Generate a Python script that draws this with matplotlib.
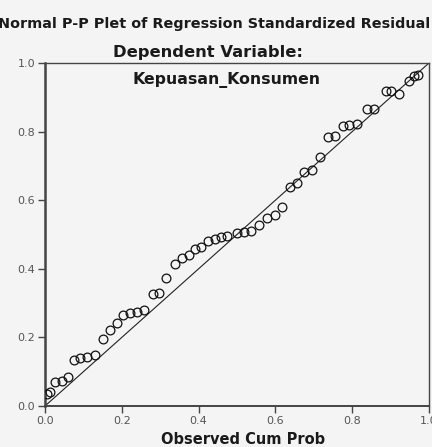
import matplotlib
matplotlib.use("Agg")
import matplotlib.pyplot as plt
import numpy as np

# observed / expected cumulative probabilities
observed = [0.004, 0.013, 0.026, 0.043, 0.061, 0.076, 0.091, 0.110, 0.130, 0.151,
            0.169, 0.187, 0.204, 0.221, 0.240, 0.258, 0.281, 0.298, 0.316, 0.339,
            0.358, 0.375, 0.391, 0.406, 0.425, 0.443, 0.458, 0.474, 0.499, 0.518,
            0.536, 0.557, 0.579, 0.599, 0.618, 0.639, 0.656, 0.675, 0.695, 0.717,
            0.738, 0.755, 0.775, 0.792, 0.812, 0.839, 0.857, 0.887, 0.900, 0.922,
            0.949, 0.962, 0.972]
expected = [0.035, 0.042, 0.070, 0.074, 0.085, 0.134, 0.139, 0.143, 0.149, 0.195,
            0.222, 0.243, 0.265, 0.270, 0.275, 0.280, 0.327, 0.330, 0.374, 0.413,
            0.431, 0.440, 0.457, 0.463, 0.481, 0.486, 0.494, 0.497, 0.503, 0.506,
            0.510, 0.528, 0.547, 0.557, 0.581, 0.639, 0.649, 0.683, 0.688, 0.727,
            0.783, 0.787, 0.816, 0.818, 0.823, 0.865, 0.866, 0.917, 0.917, 0.911,
            0.948, 0.962, 0.966]
ticks = [0.0, 0.2, 0.4, 0.6, 0.8, 1.0]
tick_labels = ["0.0", "0.2", "0.4", "0.6", "0.8", "1.0"]

W, H = 432, 447
bg = "#f4f4f4"
fig = plt.figure(figsize=(W / 100, H / 100), dpi=100, facecolor=bg)
ax = fig.add_axes([45 / W, 1 - 406 / H, (429 - 45) / W, (406 - 63) / H], facecolor=bg)

# reference diagonal
ax.plot([0, 1], [0, 1], color="#222222", lw=0.8, zorder=2)
ax.plot(observed, expected, "o", ms=6.3, mfc="none", mec="#111111", mew=0.9, zorder=3)

ax.set_xlim(0, 1)
ax.set_ylim(0, 1)
ax.set_xticks(ticks)
ax.set_yticks(ticks)
ax.set_xticklabels(tick_labels)
ax.set_yticklabels(tick_labels)
ax.tick_params(direction="out", length=5, width=1, color="#444444",
               labelsize=8, labelcolor="#555555", pad=2)
for side, sp in ax.spines.items():
    sp.set_color("#444444")
    sp.set_linewidth(1.0)
ax.spines["left"].set_linewidth(1.8)
ax.spines["bottom"].set_linewidth(1.4)

fig.text(430 / W, 1 - 28 / H, "Normal P-P Plet of Regression Standardized Residual",
         ha="right", va="baseline", fontsize=10.4, fontweight="bold", color="#1a1a1a")
fig.text(208 / W, 1 - 57 / H, "Dependent Variable:",
         ha="center", va="baseline", fontsize=11.8, fontweight="bold", color="#1a1a1a")
fig.text(227 / W, 1 - 84 / H, "Kepuasan_Konsumen",
         ha="center", va="baseline", fontsize=11.3, fontweight="bold", color="#1a1a1a")
fig.text(243 / W, 1 - 444 / H, "Observed Cum Prob",
         ha="center", va="baseline", fontsize=10.5, fontweight="bold", color="#1a1a1a")

fig.savefig("out.png", dpi=100, facecolor=bg)
